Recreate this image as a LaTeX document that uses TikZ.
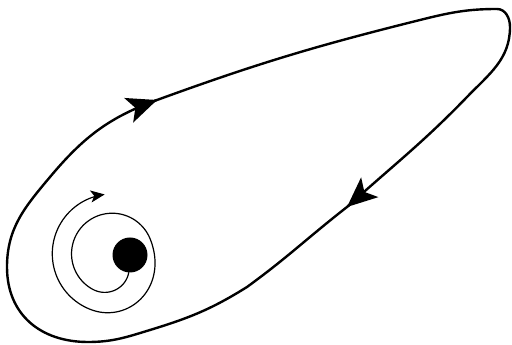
\documentclass[tikz,border=0pt]{standalone}
\usepackage{tikz}
\usetikzlibrary{arrows.meta,calc}
\tikzset{
  orbit/.style={draw=black, line width=2.4pt, line cap=round, line join=round},
  orbitarrow/.style={orbit, -{Stealth[length=30pt, width=26pt, inset=7pt]}},
  spiralline/.style={draw=black, line width=1.2pt, line cap=round,
    -{Stealth[length=14pt, width=12pt, inset=3.5pt]}},
  mass/.style={circle, fill=black, inner sep=0pt, minimum size=35pt},
}
\begin{document}
\begin{tikzpicture}[x=1pt,y=1pt,
  declare function={
    sr(\s)=25+15*sin(90*min(\s,70)/70)
      +9*(1-cos(180*max(0,min(1,(\s-290)/130))))+0.0035*\s;
  }]
\useasboundingbox (0,0) rectangle (512,345);
% closed orbit
\draw[orbit] (7,78) coordinate (left)
  to[out=90,in=230] (50,168)
  to[out=50,in=200] (157,245) coordinate (upper)
  to[out=20,in=194] (420,325)
  to[out=14,in=180] (497,336) coordinate (top)
  to[out=0,in=90] (510,318) coordinate (tip)
  to[out=-90,in=46] (467,248)
  to[out=226,in=42] (347,138) coordinate (lower)
  to[out=218,in=36] (247,58)
  to[out=212,in=17] (150,15)
  to[out=197,in=0] (88,3) coordinate (bottom)
  to[out=180,in=-90,looseness=1.1] (left);
\draw[orbitarrow] ($(upper)+(200:1)$) -- (upper);
\draw[orbitarrow] ($(lower)+(41:1)$) -- (lower);
% spiral round the mass
\draw[spiralline] plot[variable=\t, domain=-48:-623, samples=180, smooth]
  ({112+sr(-48-(\t))*cos(\t)}, {91+sr(-48-(\t))*sin(\t)});
\node[mass] (bh) at (130,90) {};
\end{tikzpicture}
\end{document}
